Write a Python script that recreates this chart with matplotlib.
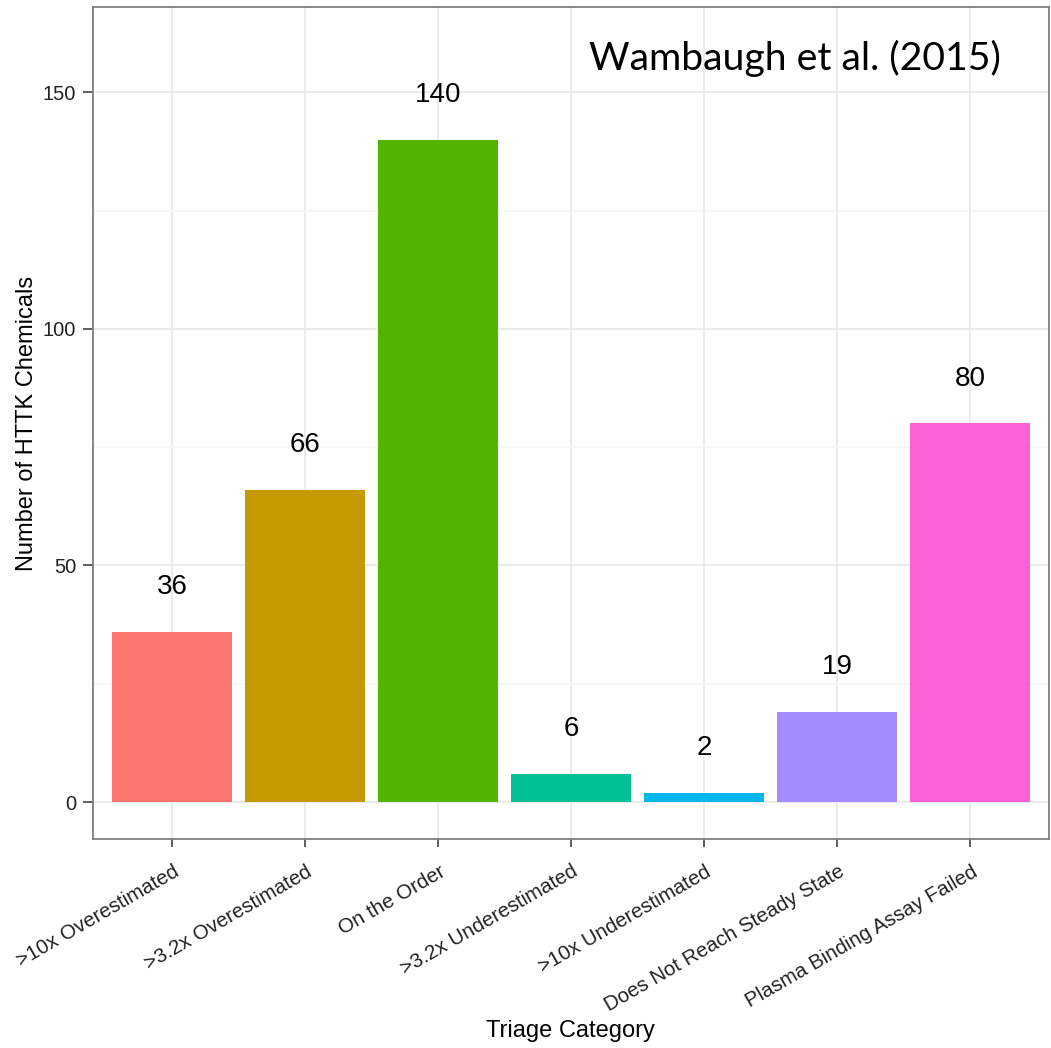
import matplotlib
matplotlib.use('Agg')
import matplotlib.pyplot as plt
import matplotlib.transforms as mtransforms
import numpy as np

categories = ['>10x Overestimated', '>3.2x Overestimated', 'On the Order',
              '>3.2x Underestimated', '>10x Underestimated',
              'Does Not Reach Steady State', 'Plasma Binding Assay Failed']
counts = [36, 66, 140, 6, 2, 19, 80]
colors = ['#F8766D', '#C49A00', '#53B400', '#00C094', '#00B6EB', '#A58AFF', '#FB61D7']
y_ticks = [0, 50, 100, 150]
y_minor = [25, 75, 125]

plt.rcParams['font.family'] = ['Liberation Sans', 'DejaVu Sans']

fig = plt.figure(figsize=(10.51, 10.48), dpi=100)
ax = fig.add_axes([0.0885, 0.1994, 0.9095, 0.7939])

x = np.arange(len(categories))
ax.bar(x, counts, width=0.9, color=colors, zorder=3)
for xi, c in zip(x, counts):
    ax.text(xi, c + 9.5, str(c), ha='center', va='center', fontsize=20, color='black', zorder=4)

ax.set_xlim(-0.594, 6.594)
ax.set_ylim(-7.8, 168)
ax.set_yticks(y_ticks)
ax.set_yticks(y_minor, minor=True)
ax.set_xticks(x)
ax.set_xticklabels([])

# category labels, rotated like the ggplot original
off = mtransforms.ScaledTranslation(1 / 100, -23 / 100, fig.dpi_scale_trans)
trans = ax.get_xaxis_transform() + off
for xi, lab in zip(x, categories):
    ax.text(xi, 0, lab, transform=trans, rotation=30, ha='right', va='top',
            rotation_mode='anchor', fontsize=14.8, color='#222222', clip_on=False)

ax.tick_params(axis='y', labelsize=14.5, length=7, width=1.1, color='#333333', pad=5, labelcolor='#222222')
ax.tick_params(axis='x', length=6, width=1.1, color='#333333', pad=0)
ax.tick_params(which='minor', length=0)

ax.grid(True, which='major', color='#e5e5e5', linewidth=1.1, zorder=0)
ax.grid(True, which='minor', axis='y', color='#f5f5f5', linewidth=1.1, zorder=0)
ax.set_axisbelow(True)
for s in ax.spines.values():
    s.set_color('#7f7f7f')
    s.set_linewidth(1.3)

ax.set_ylabel('Number of HTTK Chemicals', fontsize=17, labelpad=3.5)
fig.text(0.543, 1 - 1031 / 1048, 'Triage Category', ha='center', va='center', fontsize=17)
ax.text(795 / 1051, 1 - 58 / 1048, 'Wambaugh et al. (2015)', transform=fig.transFigure,
        ha='center', va='center', fontsize=28.3, family=['Lato', 'DejaVu Sans'])

fig.savefig('out.png', dpi=100)
